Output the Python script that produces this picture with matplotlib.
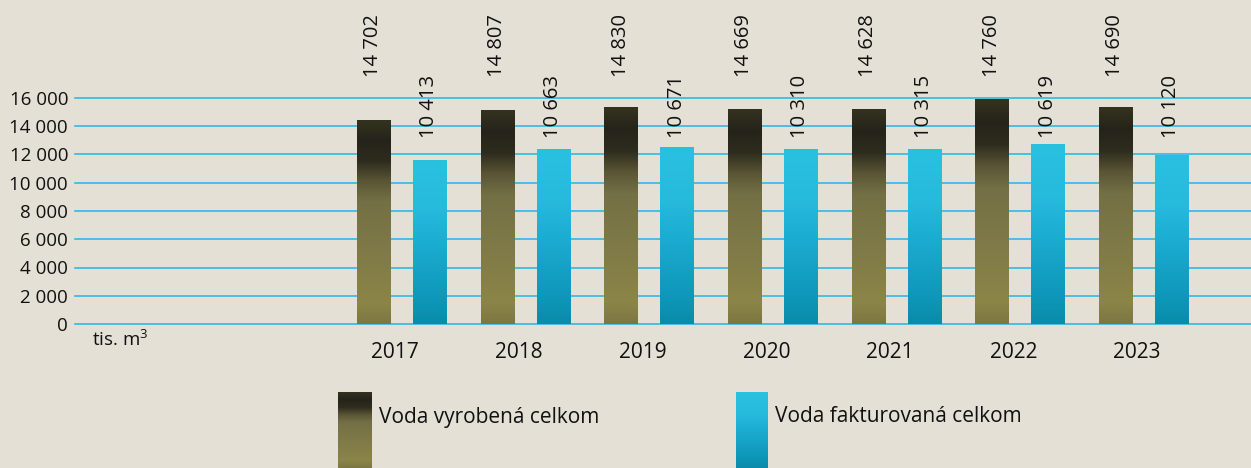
import numpy as np
import matplotlib
matplotlib.use("Agg")
import matplotlib.pyplot as plt
import matplotlib.transforms as mtransforms

# ---------------- data ----------------
years = ["2017", "2018", "2019", "2020", "2021", "2022", "2023"]
produced_labels = [14702, 14807, 14830, 14669, 14628, 14760, 14690]
billed_labels = [10413, 10663, 10671, 10310, 10315, 10619, 10120]
# bar heights as drawn in the reference picture
produced_bars = [14440, 15080, 15360, 15220, 15220, 15860, 15360]
billed_bars = [11610, 12320, 12530, 12320, 12320, 12740, 11960]
yticks = [0, 2000, 4000, 6000, 8000, 10000, 12000, 14000, 16000]
series_names = ["Voda vyrobená celkom", "Voda fakturovaná celkom"]
unit_label = "tis. m$^{\\mathrm{3}}$"

# ---------------- style ----------------
BG = "#e5e0d5"
GRID = "#22b4e6"
FONT = "Open Sans"
plt.rcParams["font.family"] = [FONT, "DejaVu Sans"]
plt.rcParams["mathtext.fontset"] = "custom"
plt.rcParams["mathtext.rm"] = FONT

brown_stops = [(0.0, "#34321f"), (0.10, "#26241a"), (0.20, "#2e2c1e"),
               (0.30, "#5a5636"), (0.40, "#747045"), (0.65, "#7f7a47"),
               (0.90, "#8b8548"), (1.0, "#7c7742")]
blue_stops = [(0.0, "#2ac1e1"), (0.30, "#26badd"), (0.50, "#1cadd2"),
              (0.70, "#14a0c4"), (0.88, "#0d95b6"), (1.0, "#0a8baa")]


def grad(stops, n=256):
    t = np.linspace(0, 1, n)
    pos = [s[0] for s in stops]
    cols = np.array([matplotlib.colors.to_rgb(s[1]) for s in stops])
    img = np.stack([np.interp(t, pos, cols[:, k]) for k in range(3)], axis=-1)
    return img[:, None, :]


brown_img = grad(brown_stops)
blue_img = grad(blue_stops)

W, H = 1251, 468
fig = plt.figure(figsize=(W / 100, H / 100), dpi=100, facecolor=BG)
ax = fig.add_axes([75 / W, (H - 324) / H, 1 - 75 / W, 226 / H])
ax.set_facecolor("none")

x = np.arange(len(years))
bw = 0.267
off = 0.2265

bars1 = ax.bar(x - off, produced_bars, bw, color="none", zorder=3)
bars2 = ax.bar(x + off, billed_bars, bw, color="none", zorder=3)
for bars, img in ((bars1, brown_img), (bars2, blue_img)):
    for r in bars:
        x0, w, h = r.get_x(), r.get_width(), r.get_height()
        ax.imshow(img, extent=(x0, x0 + w, 0, h), aspect="auto",
                  interpolation="bilinear", zorder=3, clip_on=False)

ax.set_xlim(-2.64, 6.87)
ax.set_ylim(0, 16000)
ax.set_yticks(yticks)
ax.set_yticklabels([f"{v:,}".replace(",", " ") for v in yticks])
ax.set_xticks(x - 0.05)
ax.set_xticklabels(years)
ax.tick_params(axis="y", length=0, pad=5, labelsize=13.5, colors="#111111")
ax.tick_params(axis="x", length=0, pad=13, labelsize=15, colors="#111111")
for v in yticks:
    ax.axhline(v, color=GRID, lw=1.1, zorder=1, clip_on=False)
for s in ax.spines.values():
    s.set_visible(False)

# value labels at fixed heights
trans = mtransforms.blended_transform_factory(ax.transData, ax.transAxes)
for xi, v in zip(x - off, produced_labels):
    ax.text(xi, 1.093, f"{v:,}".replace(",", " "), rotation=90, ha="center",
            va="bottom", fontsize=14.5, color="#111111", transform=trans,
            clip_on=False)
for xi, v in zip(x + off, billed_labels):
    ax.text(xi, 0.823, f"{v:,}".replace(",", " "), rotation=90, ha="center",
            va="bottom", fontsize=14.5, color="#111111", transform=trans,
            clip_on=False, zorder=2)

fig.text(92 / W, 1 - 340 / H, unit_label, fontsize=13.5, va="center",
         ha="left", color="#111111")

# legend
for (x0, x1), img, name in (((338, 372), brown_img, series_names[0]),
                            ((736, 768), blue_img, series_names[1])):
    lax = fig.add_axes([x0 / W, 0, (x1 - x0) / W, (H - 392) / H])
    lax.imshow(img, aspect="auto", interpolation="bilinear")
    lax.axis("off")
    fig.text((x1 + 7) / W, 1 - 417 / H, name, fontsize=15, va="center",
             ha="left", color="#111111")

fig.savefig("out.png", dpi=100, facecolor=BG)
